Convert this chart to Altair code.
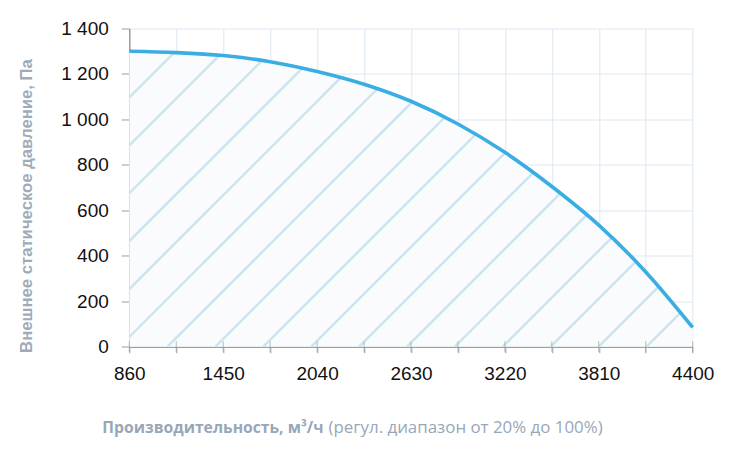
import altair as alt
import pandas as pd
import numpy as np

# ---- data ----
flow = [860, 1155, 1450, 1745, 2040, 2335, 2630, 2925, 3220, 3515, 3810, 4105, 4400]
pressure = [1300, 1294, 1281, 1254, 1211, 1155, 1080, 980, 855, 705, 535, 329, 85]
x_ticks = [860, 1155, 1450, 1745, 2040, 2335, 2630, 2925, 3220, 3515, 3810, 4105, 4400]
x_labels = [860, 1450, 2040, 2630, 3220, 3810, 4400]
y_ticks = [0, 200, 400, 600, 800, 1000, 1200, 1400]
y_title = "Внешнее статическое давление, Па"
x_title_bold = "Производительность, м³/ч"
x_title_rest = "(регул. диапазон от 20% до 100%)"

# ---- layout ----
W, H = 563.4, 318.2
X_MIN, X_MAX = 860, 4400
Y_MIN, Y_MAX = 0, 1400

# ---- hatch pattern (45deg in pixel space), clipped under the curve ----
hatch_first = 1100
hatch_step = 301
s = (W / (X_MAX - X_MIN)) / (H / (Y_MAX - Y_MIN))
fx = np.array(flow, dtype=float)
fy = np.array(pressure, dtype=float)


def curve(x):
    return float(np.interp(x, fx, fy))


segs = []
for k in range(-8, 14):
    x0 = hatch_first + hatch_step * k
    if x0 >= X_MAX:
        continue
    if x0 >= X_MIN:
        xs, ys = x0, 0.0
    else:
        xs, ys = X_MIN, s * (X_MIN - x0)
    if ys >= curve(xs):
        continue
    xe, ye = None, None
    for i in range(len(fx) - 1):
        a, b = fx[i], fx[i + 1]
        if b < xs:
            continue
        ga = fy[i] - s * (a - x0)
        gb = fy[i + 1] - s * (b - x0)
        if ga >= 0 and gb < 0:
            t = ga / (ga - gb)
            xe = a + t * (b - a)
            ye = s * (xe - x0)
            break
    if xe is None:
        xe, ye = X_MAX, s * (X_MAX - x0)
    segs.append({"x": xs, "y": ys, "x2": xe, "y2": ye})

curve_df = pd.DataFrame({"flow": flow, "pressure": pressure})
hatch_df = pd.DataFrame(segs)
tick_df = pd.DataFrame({"t": x_ticks})

xs_scale = alt.Scale(domain=[X_MIN, X_MAX], nice=False, zero=False)
ys_scale = alt.Scale(domain=[Y_MIN, Y_MAX], nice=False)

label_expr_x = f"indexof({x_labels}, datum.value) >= 0 ? format(datum.value, 'd') : ''"

x_axis = alt.Axis(
    values=x_ticks, labelExpr=label_expr_x, title=None,
    grid=True, gridColor="#dde8f2", gridWidth=1,
    domainColor="#9d9d9d", domainWidth=1.5, tickColor="#9d9d9d", tickSize=6,
    labelFont="Liberation Sans", labelFontSize=19, labelColor="#111111",
    labelPadding=12, labelFlush=False, labelOverlap=False,
)
y_axis = alt.Axis(
    values=y_ticks, labelExpr="replace(format(datum.value, ','), ',', ' ')",
    title=y_title, titleFont="Liberation Sans", titleFontSize=16.7,
    titleFontWeight="bold", titleColor="#9eabb9",
    titleAngle=270, titleX=-103, titleY=177, titleAlign="center", titleBaseline="middle",
    grid=True, gridColor="#dde8f2", gridWidth=1,
    domainColor="#9d9d9d", domainWidth=1.5, tickColor="#9d9d9d", tickSize=8,
    labelFont="Liberation Sans", labelFontSize=19, labelColor="#111111",
    labelPadding=13,
)

fill = alt.Chart(curve_df).mark_area(color="#f9fbfd", interpolate="monotone").encode(
    x=alt.X("flow:Q", scale=xs_scale, axis=x_axis),
    y=alt.Y("pressure:Q", scale=ys_scale, axis=y_axis),
)

hatch = alt.Chart(hatch_df).mark_rule(color="#cbe4ef", strokeWidth=2.4).encode(
    x=alt.X("x:Q", scale=xs_scale),
    y=alt.Y("y:Q", scale=ys_scale),
    x2="x2:Q",
    y2="y2:Q",
)

line = alt.Chart(curve_df).mark_line(
    color="#3aade3", strokeWidth=3.6, interpolate="monotone"
).encode(
    x=alt.X("flow:Q", scale=xs_scale),
    y=alt.Y("pressure:Q", scale=ys_scale),
)

cross_ticks = alt.Chart(tick_df).mark_tick(
    orient="vertical", size=11, thickness=1, color="#9d9d9d"
).encode(
    x=alt.X("t:Q", scale=xs_scale),
    y=alt.datum(0),
)

title_bold = alt.Chart(pd.DataFrame({"t": [x_title_bold]})).mark_text(
    align="left", baseline="alphabetic", font="Open Sans", fontSize=15.7,
    fontWeight="bold", color="#98a7b8",
).encode(x=alt.value(-27), y=alt.value(405), text="t:N")

title_rest = alt.Chart(pd.DataFrame({"t": [x_title_rest]})).mark_text(
    align="right", baseline="alphabetic", font="Open Sans", fontSize=16.9,
    fontWeight="normal", color="#98a7b8",
).encode(x=alt.value(473.4), y=alt.value(405), text="t:N")

chart = alt.layer(fill, hatch, line, cross_ticks, title_bold, title_rest).properties(
    width=W, height=H,
    autosize=alt.AutoSizeParams(type="none"),
    padding={"left": 121.3, "top": 20.5, "right": 31, "bottom": 105},
).configure_view(stroke=None)

chart.save("out.html", embed_options={"renderer": "svg", "actions": False})
